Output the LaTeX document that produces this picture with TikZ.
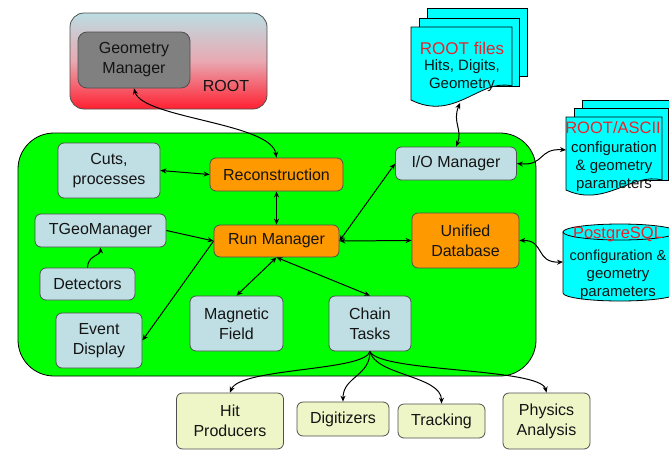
\documentclass[tikz,border=0pt]{standalone}
\usepackage{fontspec}
\setmainfont{Liberation Sans}
\usetikzlibrary{arrows.meta}
\definecolor{lblue}{HTML}{BFDFE4}
\definecolor{orng}{HTML}{FF9900}
\definecolor{pyel}{HTML}{EEF5C6}
\definecolor{boxline}{HTML}{505050}
\definecolor{mgreen}{HTML}{00FF00}
\definecolor{dcyan}{HTML}{00FFFF}
\definecolor{rootred}{HTML}{E8232C}
\definecolor{rtop}{HTML}{BBDDE2}
\definecolor{rmid}{HTML}{E9A9B2}
\definecolor{rbot}{HTML}{FF1F30}
\definecolor{ggray}{HTML}{808080}
\begin{document}
\begin{tikzpicture}[x=1pt,y=-1pt,
  every node/.style={font=\fontsize{16}{20}\selectfont, align=center, inner sep=0pt, text=black!92},
  box/.style={draw=boxline, line width=0.8pt, rounded corners=6pt},
  bluebox/.style={box, fill=lblue},
  orangebox/.style={box, fill=orng},
  yellowbox/.style={box, fill=pyel},
  doc/.style={fill=dcyan, draw=black, line width=0.8pt},
  dtext/.style={font=\fontsize{15}{18}\selectfont},
  dtitle/.style={font=\fontsize{17}{20}\selectfont, text=rootred},
  conn/.style={line width=1pt, black},
  >={Stealth[length=6pt,width=5pt]}]
\useasboundingbox (0,0) rectangle (669,450);
\clip (0,0) rectangle (669,450);

% ROOT box
\node[draw=boxline, line width=0.8pt, rounded corners=14pt, minimum width=197pt, minimum height=96pt,
  top color=rtop, bottom color=rbot, middle color=rmid] (rootbox) at (168.5,61) {};
\node[box, fill=ggray, rounded corners=9pt, minimum width=112pt, minimum height=56pt] (geom) at (134,60) {Geometry\\Manager};
\node (rootlbl) at (226,86) {ROOT};

% main green region
\draw[fill=mgreen, draw=black, line width=0.8pt, rounded corners=36pt] (18,133) rectangle (536,376);

% inner nodes
\node[bluebox, minimum width=102pt, minimum height=55pt] (cuts) at (109,170.5) {Cuts,\\processes};
\node[orangebox, minimum width=133pt, minimum height=33pt] (reco) at (276.5,174.5) {Reconstruction};
\node[bluebox, minimum width=131pt, minimum height=33pt] (tgeo) at (100.5,230.5) {TGeoManager};
\node[orangebox, minimum width=125pt, minimum height=32pt] (run) at (276.5,241) {Run Manager};
\node[bluebox, minimum width=95pt, minimum height=32pt] (det) at (87.5,284) {Detectors};
\node[bluebox, minimum width=86pt, minimum height=55pt] (event) at (99,340.5) {Event\\Display};
\node[bluebox, minimum width=93pt, minimum height=55pt] (mag) at (236.5,323.5) {Magnetic\\Field};
\node[bluebox, minimum width=82pt, minimum height=55pt] (chain) at (370,323.5) {Chain\\Tasks};
\node[bluebox, minimum width=121pt, minimum height=33pt] (io) at (456,163.5) {I/O Manager};
\node[orangebox, minimum width=107pt, minimum height=55pt] (udb) at (465.5,240.5) {Unified\\Database};

% task nodes
\node[yellowbox, minimum width=107pt, minimum height=56pt] (hit) at (230,421) {Hit\\Producers};
\node[yellowbox, minimum width=92pt, minimum height=34pt] (digi) at (343,419) {Digitizers};
\node[yellowbox, minimum width=87pt, minimum height=34pt] (track) at (441.5,421) {Tracking};
\node[yellowbox, minimum width=87pt, minimum height=56pt] (phys) at (546.5,421) {Physics\\Analysis};

% ROOT files stack
\filldraw[doc] (427,8) rectangle (527,76);
\filldraw[doc] (419,18) rectangle (519,86);
\filldraw[doc] (411,27) -- (512,27) -- (512,86) .. controls (480,78) and (455,122) .. (411,100) -- cycle;
\node[dtitle] (rf1) at (462,48) {ROOT files};
\node[dtext] (rf2) at (462,67) {Hits, Digits,};
\node[dtext] (rf3) at (462,85) {Geometry};
\coordinate (rfb) at (460,103);

% ROOT/ASCII stack
\filldraw[doc] (582,100) rectangle (680,170);
\filldraw[doc] (574,108) rectangle (668,180);
\filldraw[doc] (566,117) -- (662,117) -- (662,180) .. controls (632,172) and (605,208) .. (566,190) -- cycle;
\node[dtitle, font=\fontsize{16.5}{20}\selectfont] (ra1) at (613,128) {ROOT/ASCII};
\node[dtext] (ra2) at (614,149) {configuration};
\node[dtext] (ra3) at (614,167) {\&~geometry};
\node[dtext] (ra4) at (614,185) {parameters};
\coordinate (asciil) at (566,150);

% PostgreSQL cylinder
\filldraw[doc] (563,232) -- (563,293) arc[start angle=180, end angle=0, x radius=57, y radius=8] -- (677,232) -- cycle;
\filldraw[doc] (620,232) ellipse [x radius=57, y radius=8];
\node[dtitle, font=\fontsize{16.5}{20}\selectfont] (pg1) at (618,234) {PostgreSQL};
\node[dtext, font=\fontsize{14.5}{18}\selectfont] (pg2) at (618,257) {configuration \&};
\node[dtext] (pg3) at (618,275) {geometry};
\node[dtext] (pg4) at (618,293) {parameters};
\coordinate (pgl) at (563,262);

% connectors
\draw[conn,<->] (geom.south) .. controls +(8,30) and +(-5,-35) .. (reco.north);
\draw[conn,<->] (cuts.east) -- (reco.west);
\draw[conn,<->] (reco.south) -- (run.north);
\draw[conn,->] (tgeo.east) -- (run.west);
\draw[conn,->] (det.north) .. controls +(0,-12) and +(0,8) .. (tgeo.south);
\draw[conn,->] (run.west) -- (event.east);
\draw[conn,<->] (run.south) -- (mag.north);
\draw[conn,<->] (run.south) -- (chain.north);
\draw[conn,<->] (io.west) -- (run.east);
\draw[conn,<->] (run.east) -- (udb.west);
\draw[conn,<->] (rfb) .. controls (452,122) and (463,130) .. (io.north);
\draw[conn,<->] (io.east) .. controls (545,166) and (538,148) .. (asciil);
\draw[conn,<->] (udb.east) .. controls (545,240) and (535,263) .. (pgl);
\draw[conn,->] (chain.south) .. controls +(-5,20) and +(10,-25) .. (hit.north);
\draw[conn,->] (chain.south) .. controls +(0,25) and +(0,-25) .. (digi.north);
\draw[conn,->] (chain.south) .. controls +(5,24) and +(0,-28) .. (track.north);
\draw[conn,->] (chain.south) .. controls +(8,21) and +(-6,-25) .. (phys.north);
\end{tikzpicture}
\end{document}
